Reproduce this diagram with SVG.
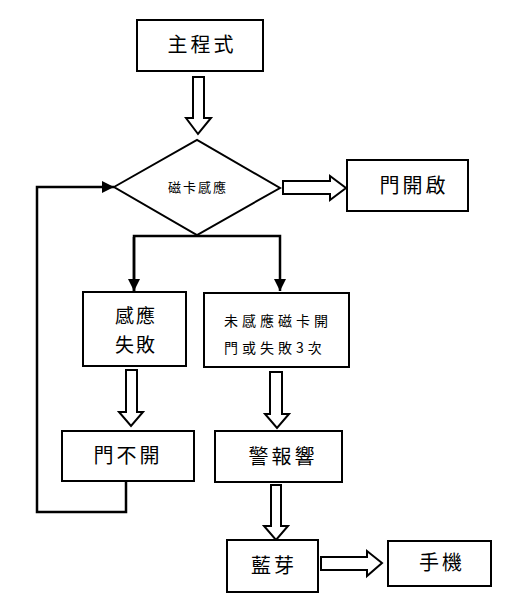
<svg xmlns="http://www.w3.org/2000/svg" width="513" height="600" viewBox="0 0 513 600">
<defs>
<style>
.box{fill:#fff;stroke:#000;stroke-width:2}
.blk{fill:#fff;stroke:#000;stroke-width:2;stroke-linejoin:miter}
.ln{fill:none;stroke:#000;stroke-width:2.5}
text{font-family:"Noto Sans CJK TC","Noto Sans CJK SC",sans-serif;fill:#000;text-anchor:middle}
.big{font-size:20px;letter-spacing:3px}
.lg{font-size:19px;letter-spacing:2px}
.sm{font-size:13px;letter-spacing:2px}
.md{font-size:14px;letter-spacing:4px;text-anchor:start}
</style>
<marker id="tri" viewBox="0 0 10 10" refX="10" refY="5" markerWidth="5" markerHeight="5" markerUnits="strokeWidth" orient="auto">
<path d="M0,0 L10,5 L0,10 Z" fill="#000"/>
</marker>
</defs>
<rect width="513" height="600" fill="#fff"/>
<g id="connectors">
<polyline class="ln" points="197,234 197,236"/>
<polyline class="ln" points="134,291 134,236 280,236 280,291" marker-end="url(#tri)"/>
<polyline class="ln" points="134,237 134,291" marker-end="url(#tri)"/>
<polyline class="ln" points="126,481 126,512 37,512 37,187 114,187" marker-end="url(#tri)"/>
<polygon class="blk" points="193,77 204,77 204,118 211,118 198,134 186,118 193,118"/>
<polygon class="blk" points="283,181 330,181 330,176 346,188 330,200 330,194 283,194"/>
<polygon class="blk" points="126,370 137,370 137,412 143,412 131,426 119,412 126,412"/>
<polygon class="blk" points="270,372 282,372 282,414 289,414 277,428 265,414 270,414"/>
<polygon class="blk" points="271,485 281,485 281,526 288,526 276,540 264,526 271,526"/>
<polygon class="blk" points="321,557 367,557 367,551 382,563 367,576 367,570 321,570"/>
</g>
<g id="main">
<rect class="box" x="137" y="20" width="126" height="51"/>
<text class="big" x="202" y="52">主程式</text>
</g>
<g id="decision">
<polygon class="box" points="114,187 197,140 280,188 197,235"/>
<text class="sm" x="198" y="192">磁卡感應</text>
</g>
<g id="door-open">
<rect class="box" x="347" y="160" width="121" height="51"/>
<text class="big" x="414" y="193">門開啟</text>
</g>
<g id="fail">
<rect class="box" x="83" y="292" width="103" height="74"/>
<text class="lg" x="136" y="323">感應</text>
<text class="lg" x="136" y="352">失敗</text>
</g>
<g id="fail3">
<rect class="box" x="204" y="293" width="145" height="74"/>
<text class="md" x="224" y="326">未感應磁卡開</text>
<text class="md" x="224" y="353">門或失敗3次</text>
</g>
<g id="door-closed">
<rect class="box" x="62" y="431" width="132" height="50"/>
<text class="big" x="128" y="463">門不開</text>
</g>
<g id="alarm">
<rect class="box" x="215" y="431" width="127" height="51"/>
<text class="big" x="283" y="464">警報響</text>
</g>
<g id="bluetooth">
<rect class="box" x="227" y="540" width="91" height="52"/>
<text class="big" x="274" y="573">藍芽</text>
</g>
<g id="phone">
<rect class="box" x="388" y="541" width="103" height="45"/>
<text class="big" x="442" y="570">手機</text>
</g>
</svg>
